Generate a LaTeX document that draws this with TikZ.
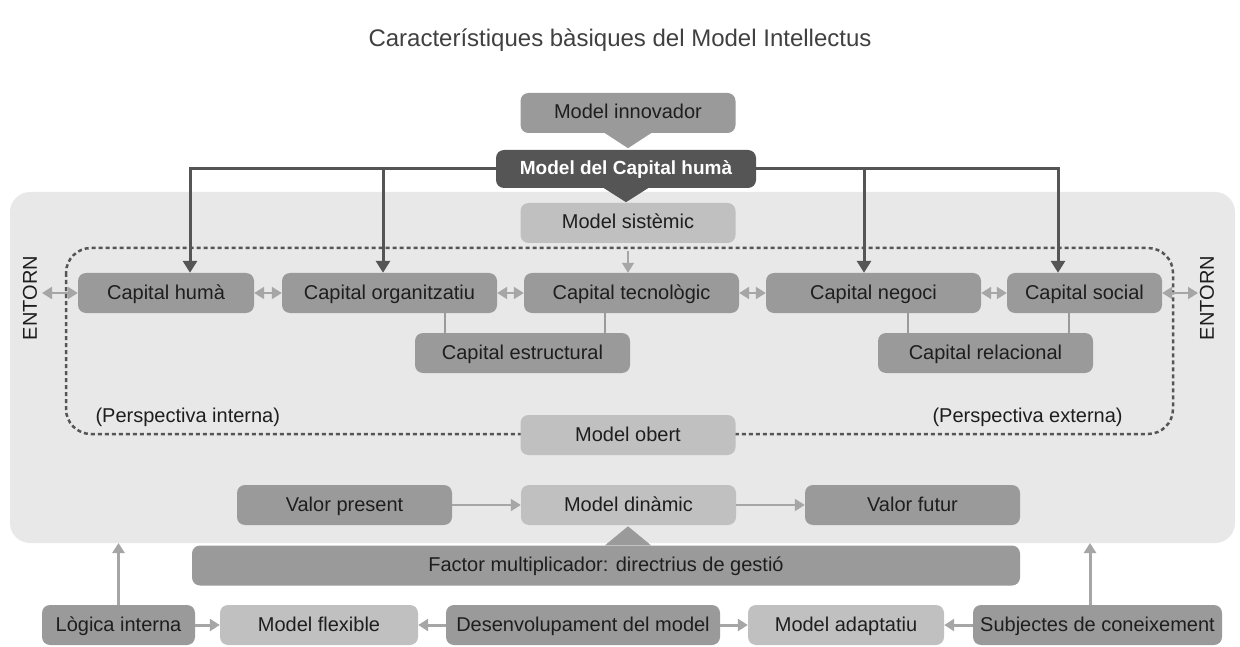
\documentclass[tikz,border=0pt]{standalone}
\usepackage{fontspec}
\setmainfont{Liberation Sans}
\usetikzlibrary{arrows.meta}
\definecolor{fonsgris}{HTML}{E8E8E8}
\definecolor{caixamitja}{HTML}{9A9A9A}
\definecolor{caixaclara}{HTML}{C0C0C0}
\definecolor{caixafosca}{HTML}{555555}
\definecolor{fletxaclara}{HTML}{A6A6A6}
\definecolor{textfosc}{HTML}{1E1E1E}

\begin{document}
\begin{tikzpicture}[x=1pt,y=-1pt,
    caixa/.style={rounded corners=8pt, minimum height=40pt, inner sep=0pt,
        text height=15pt, text depth=3pt,
        font=\fontsize{20}{24}\selectfont, text=textfosc},
    mitja/.style={caixa, fill=caixamitja},
    clara/.style={caixa, fill=caixaclara},
    fosca/.style={caixa, fill=caixafosca, text=white, minimum height=38pt,
        font=\fontsize{19}{22}\selectfont\bfseries},
    fletxa/.style={fletxaclara, line width=2pt, -{Triangle[width=12pt,length=10pt]}},
    doble/.style={fletxaclara, line width=2pt,
        {Triangle[width=12pt,length=10pt]}-{Triangle[width=12pt,length=10pt]}},
    fosc/.style={caixafosca, line width=3pt, -{Triangle[width=14pt,length=12pt]}},
    etiqueta/.style={font=\fontsize{20}{24}\selectfont, text=textfosc}]
    \useasboundingbox (0,0) rectangle (1240,647);

    % Fons i perimetre puntejat
    \fill[fonsgris, rounded corners=20pt] (10,192) rectangle (1235,543);
    \draw[caixafosca, line width=2.5pt, dash pattern=on 4pt off 3pt, rounded corners=25pt]
        (66,248) rectangle (1173,434);

    % Titol
    \node[font=\fontsize{24}{28}\selectfont, text=black!75] (titol) at (620,40)
        {Característiques bàsiques del Model Intellectus};

    % Models de dalt
    \node[mitja, minimum width=215pt] (innov) at (628,113) {Model innovador};
    \node[fosca, minimum width=260pt] (chum) at (626,169) {Model del Capital humà};
    \node[clara, minimum width=215pt] (sist) at (628,223) {Model sistèmic};

    % Triangles
    \fill[caixamitja] ([xshift=-23pt]innov.south) -- ([xshift=23pt]innov.south)
        -- ([yshift=-15pt]innov.south) -- cycle;
    \fill[caixafosca] ([xshift=-22pt]chum.south) -- ([xshift=22pt]chum.south)
        -- ([yshift=-14pt]chum.south) -- cycle;

    % Capitals
    \node[mitja, minimum width=176pt] (ch) at (166,293) {Capital humà};
    \node[mitja, minimum width=215pt] (corg) at (389.5,293) {Capital organitzatiu};
    \node[mitja, minimum width=215pt] (ctec) at (631.5,293) {Capital tecnològic};
    \node[mitja, minimum width=215pt] (cneg) at (873.5,293) {Capital negoci};
    \node[mitja, minimum width=155pt] (csoc) at (1084.5,293) {Capital social};
    \node[mitja, minimum width=215pt] (cest) at (522.5,353) {Capital estructural};
    \node[mitja, minimum width=215pt] (crel) at (985.5,353) {Capital relacional};

    % Entorn
    \node[etiqueta, rotate=90] (entornE) at (30,298) {ENTORN};
    \node[etiqueta, rotate=90] (entornD) at (1207,298) {ENTORN};
    \coordinate (entornesq) at (42,293);
    \coordinate (entorndre) at (1198,293);

    % Perspectives
    \node[etiqueta, anchor=west] (pint) at (92,417) {(Perspectiva interna)};
    \node[etiqueta, anchor=west] (pext) at (929,417) {(Perspectiva externa)};
    \node[clara, minimum width=215pt] (obert) at (628,435) {Model obert};

    % Valor
    \node[mitja, minimum width=215pt] (vpres) at (344.5,505) {Valor present};
    \node[clara, minimum width=215pt] (dinam) at (628.5,505) {Model dinàmic};
    \node[mitja, minimum width=215pt] (vfut) at (912.5,505) {Valor futur};
    \node[mitja, minimum width=828pt] (factor) at (606,565.5) {Factor multiplicador: directrius de gestió};
    \fill[caixamitja] ([xshift=-1pt]factor.north) -- ([xshift=45pt]factor.north)
        -- ([xshift=22pt,yshift=19pt]factor.north) -- cycle;

    % Fila de baix
    \node[mitja, minimum width=153pt] (logica) at (118.5,625) {Lògica interna};
    \node[clara, minimum width=198pt] (flex) at (319,625) {Model flexible};
    \node[mitja, minimum width=274pt] (desenv) at (583,625) {Desenvolupament del model};
    \node[clara, minimum width=196pt] (adapt) at (846,625) {Model adaptatiu};
    \node[mitja, minimum width=249pt] (subj) at (1097.5,625) {Subjectes de coneixement};
    \coordinate (fonsbaix) at (0,543);

    % Fletxes fosques
    \draw[fosc] (chum.west) -| ([xshift=24pt]ch.north);
    \draw[fosc] (chum.west) -| ([xshift=-6.5pt]corg.north);
    \draw[fosc] (chum.east) -| ([xshift=-9.5pt]cneg.north);
    \draw[fosc] (chum.east) -| ([xshift=-26.5pt]csoc.north);

    % Fletxes dobles
    \draw[doble] (entornesq) -- (ch);
    \draw[doble] (ch) -- (corg);
    \draw[doble] (corg) -- (ctec);
    \draw[doble] (ctec) -- (cneg);
    \draw[doble] (cneg) -- (csoc);
    \draw[doble] (csoc) -- (entorndre);
    \coordinate (puntsist) at (628,251);
    \draw[fletxa, line width=1.5pt] (puntsist) -- (puntsist |- ctec.north);

    % Enllacos
    \draw[caixamitja, line width=1.5pt] ([xshift=55.5pt]corg.south) -- ([xshift=55.5pt]corg.south |- cest.north);
    \draw[caixamitja, line width=1.5pt] ([xshift=-26.5pt]ctec.south) -- ([xshift=-26.5pt]ctec.south |- cest.north);
    \draw[caixamitja, line width=1.5pt] ([xshift=34.5pt]cneg.south) -- ([xshift=34.5pt]cneg.south |- crel.north);
    \draw[caixamitja, line width=1.5pt] ([xshift=-15.5pt]csoc.south) -- ([xshift=-15.5pt]csoc.south |- crel.north);

    \draw[fletxa] (vpres) -- (dinam);
    \draw[fletxa] (dinam) -- (vfut);

    \draw[fletxa, line width=3pt] (logica) -- (flex);
    \draw[fletxa, line width=3pt] (desenv) -- (flex);
    \draw[fletxa, line width=3pt] (desenv) -- (adapt);
    \draw[fletxa, line width=3pt] (subj) -- (adapt);
    \draw[fletxa, line width=3pt] (logica.north) -- (logica.north |- fonsbaix);
    \draw[fletxa, line width=3pt] ([xshift=-7.5pt]subj.north) -- ([xshift=-7.5pt]subj.north |- fonsbaix);
\end{tikzpicture}
\end{document}
